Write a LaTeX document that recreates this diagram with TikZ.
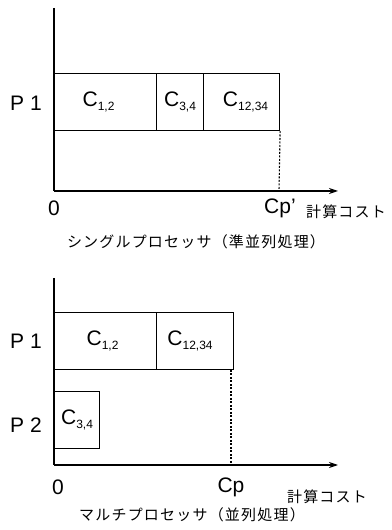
\documentclass[tikz,border=0pt]{standalone}
\usepackage{fontspec}
\setmainfont{Liberation Sans}
\newfontfamily\jpf{Noto Sans CJK JP}[LetterSpace=8]
\usetikzlibrary{arrows.meta}
\newcommand{\Csub}[1]{C\raisebox{-0.3ex}{\fontsize{12}{12}\selectfont #1}}
\tikzset{
  x=1pt,y=1pt,
  axis/.style={line width=1.1pt},
  axisarrow/.style={line width=1.1pt,-{Stealth[length=9pt,width=6pt]}},
  task/.style={draw,line width=1.1pt,anchor=south west,inner sep=0pt,minimum height=57pt,font=\fontsize{21}{21}\selectfont},
  lbl/.style={inner sep=0pt,font=\fontsize{21}{21}\selectfont},
  jp/.style={inner sep=0pt,font=\jpf\fontsize{15}{15}\selectfont},
  guide/.style={line width=1.1pt,dash pattern=on 2pt off 1.5pt}
}
\begin{document}
\begin{tikzpicture}
\useasboundingbox (0,0) rectangle (391,530);
% ---------- top: single processor ----------
\coordinate (o1) at (54,339);
\coordinate (y1) at (54,522);
\coordinate (x1) at (338,339);
\coordinate (d1) at (279,339);
\draw[axis] (y1) -- (o1);
\draw[axisarrow] (o1) -- (x1);
\node[task,minimum width=102pt] (a12) at (54,399) {\hspace*{-14pt}\Csub{1,2}};
\node[task,minimum width=47pt] (a34) at (156,399) {\Csub{3,4}};
\node[task,minimum width=76pt] (a1234) at (203,399) {\hspace*{8pt}\Csub{12,34}};
\draw[guide] (a1234.south east) -- (d1);
\node[lbl] (p1a) at (26,427) {P 1};
\node[lbl] (z1) at (54,322) {0};
\node[lbl] (cp1) at (280,322) {Cp\char"0027};
\node[jp] (k1) at (346,318) {計算コスト};
\node[jp] (t1) at (196,288) {シングルプロセッサ（準並列処理）};
% ---------- bottom: multi processor ----------
\coordinate (o2) at (54,65);
\coordinate (y2) at (54,252);
\coordinate (x2) at (338,65);
\coordinate (d2) at (231,65);
\draw[axis] (y2) -- (o2);
\draw[axisarrow] (o2) -- (x2);
\node[task,minimum width=102pt] (b12) at (54,160) {\hspace*{-6pt}\Csub{1,2}};
\node[task,minimum width=77pt] (b1234) at (156,160) {\hspace*{-10pt}\Csub{12,34}};
\node[task,minimum width=45pt] (b34) at (54,81) {\Csub{3,4}};
\draw[guide] (231,160) -- (d2);
\node[lbl] (p1b) at (26,189) {P 1};
\node[lbl] (p2b) at (26,105) {P 2};
\node[lbl] (z2) at (58,43) {0};
\node[lbl] (cp2) at (231,43) {Cp};
\node[jp] (k2) at (327,33) {計算コスト};
\node[jp] (t2) at (192,15) {マルチプロセッサ（並列処理）};
\end{tikzpicture}
\end{document}
